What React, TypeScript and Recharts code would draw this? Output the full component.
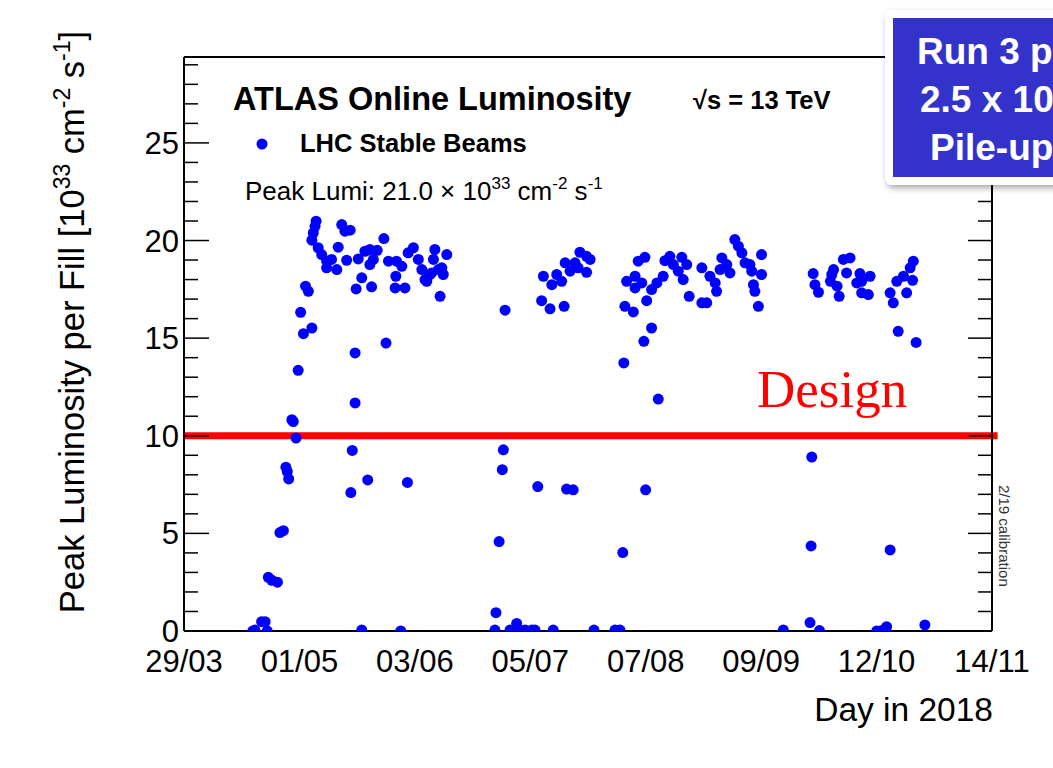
import React from 'react';
import { ScatterChart, Scatter, XAxis, YAxis, ReferenceLine } from 'recharts';

// Day of year 2018 (29/03 = day 88) for each fill
const fillDay: number[] = [
  107.6, 108.2, 110.1, 111.1, 111.7, 112.0, 113.0, 114.6, 115.3, 116.3, 117.0, 117.4, 117.8, 118.7, 119.1, 119.9,
  120.5, 121.2, 122.0, 122.6, 123.4, 124.4, 124.4, 124.8, 125.3, 125.6, 126.2, 127.2, 128.6, 128.6, 130.0, 131.5,
  131.9, 132.9, 133.8, 135.3, 134.3, 135.5, 135.9, 136.7, 136.7, 137.0, 137.6, 138.6, 138.6, 139.5, 140.3, 140.9,
  140.9, 141.9, 141.4, 143.0, 144.9, 145.5, 146.2, 148.5, 148.1, 148.3, 149.7, 150.0, 150.9, 151.6, 151.8, 153.3,
  154.7, 155.7, 156.6, 157.1, 158.0, 159.4, 159.0, 158.5, 160.4, 161.8, 161.4, 162.8, 160.9,
  176.5, 176.8, 177.7, 178.6, 178.9, 179.4, 180.8, 182.7, 182.7, 183.6, 185.1, 187.0, 187.9, 188.7, 189.8, 190.3,
  192.2, 192.7, 193.1, 194.1, 195.5, 196.2, 196.5, 196.9, 197.9, 198.8, 199.3, 200.2, 200.7, 202.6, 202.6, 203.6,
  204.7,
  210.7, 212.1, 212.9, 213.2, 213.5, 214.0, 215.9, 216.4, 216.4, 217.3, 218.3, 219.2, 219.4, 218.9, 219.7, 221.1,
  221.1, 222.6, 223.0, 224.4, 224.9, 226.3, 227.3, 228.7, 229.7, 231.1, 230.1, 231.8, 235.4, 235.4, 236.8, 237.7,
  239.2, 239.6, 241.1, 240.6, 242.5, 243.4, 244.8, 245.8, 246.8, 247.7, 249.1, 249.6, 250.1, 250.5, 251.5, 252.4,
  252.4, 258.6,
  266.2, 266.5, 266.7, 267.1, 267.6, 268.6, 268.9, 272.0, 272.4, 272.9, 273.9, 274.5, 275.7, 276.6, 277.6, 279.5,
  280.4, 280.9, 280.9, 282.8, 283.3, 285.2, 286.6, 288.0, 289.0, 289.0, 289.9, 290.9, 291.3, 292.8, 293.7, 294.7,
  295.4, 295.6, 296.4, 298.9,
];

// Peak luminosity per fill [10^33 cm^-2 s^-1]
const peakLumi: number[] = [
  0.0, 0.05, 0.48, 0.48, 0.0, 2.75, 2.6, 2.5, 5.04, 5.14, 8.39, 8.17, 7.79, 10.82, 10.73, 9.88,
  13.35, 16.32, 15.23, 17.66, 17.4, 15.52, 20.02, 20.39, 20.73, 20.99, 19.63, 19.28, 18.94, 18.6, 19.03, 18.51,
  19.66, 20.82, 20.48, 20.53, 18.99, 7.09, 9.25, 14.24, 11.68, 17.52, 19.06, 18.09, 0.05, 19.45, 7.74, 19.54,
  18.77, 19.03, 17.63, 19.5, 20.1, 14.75, 18.94, 18.94, 17.57, 18.17, 0.0, 18.68, 17.57, 7.61, 19.37, 19.63,
  19.03, 18.51, 18.0, 17.91, 18.26, 19.54, 19.03, 18.34, 18.51, 18.26, 18.6, 19.28, 17.14,
  0.05, 0.94, 4.58, 8.26, 9.28, 16.43, 0.05, 0.39, 0.05, 0.05, 0.05, 0.05, 0.05, 7.4, 16.92, 18.17,
  16.5, 17.74, 0.05, 18.26, 17.91, 16.63, 18.86, 7.27, 18.43, 7.23, 18.86, 18.6, 19.4, 19.19, 18.37, 19.03,
  0.05,
  0.05, 0.05, 4.02, 13.73, 16.63, 17.91, 16.34, 18.17, 17.57, 18.94, 17.83, 19.14, 7.23, 14.84, 16.92, 17.49,
  15.52, 17.83, 11.88, 18.17, 18.97, 19.19, 18.77, 18.43, 19.14, 18.77, 18.0, 17.14, 18.6, 16.81, 16.81, 18.17,
  17.83, 17.4, 19.11, 18.51, 18.77, 18.34, 20.05, 19.71, 19.37, 18.86, 18.77, 18.43, 17.74, 17.4, 16.63, 19.28,
  18.26, 0.05,
  0.43, 4.36, 8.91, 18.31, 17.74, 17.35, 0.02, 17.91, 18.26, 18.51, 17.66, 17.14, 19.03, 18.34, 19.11, 17.83,
  18.31, 17.91, 17.32, 17.23, 18.17, 0.0, 0.02, 0.22, 4.15, 17.32, 16.81, 17.91, 15.35, 18.17, 17.32, 18.6,
  17.96, 18.94, 14.78, 0.31,
];

const xTickLabels: string[] = ['29/03', '01/05', '03/06', '05/07', '07/08', '09/09', '12/10', '14/11'];
const xStart = 88;
const xEnd = 318;
const yTicks: number[] = [0, 5, 10, 15, 20, 25];
const yMax = 29.4;
const designLumi = 10;

const data = fillDay.map((d, i) => ({ day: d, lumi: peakLumi[i] }));
const xMajor = xTickLabels.map((_, k) => xStart + (k * (xEnd - xStart)) / 7);
const xMinor = Array.from({ length: 29 }, (_, k) => xStart + (k * (xEnd - xStart)) / 28).filter((_, k) => k % 4 !== 0);
const yMinor = Array.from({ length: 30 }, (_, k) => k).filter((v) => v % 5 !== 0);

const FONT = '"Liberation Sans", Arial, Helvetica, sans-serif';
const tickLineStyle = { stroke: '#000', strokeWidth: 1.5 };
const axisLineStyle = { stroke: '#000', strokeWidth: 2 };

const Dot = (p: any) => <circle cx={p.cx} cy={p.cy} r={5.5} fill="#0000ff" />;
const NoLabel = () => <g />;

export default function App() {
  const xCommon = { type: 'number' as const, domain: [xStart, xEnd], allowDataOverflow: true, interval: 0 as const, height: 1 };
  const yCommon = { type: 'number' as const, domain: [0, yMax], allowDataOverflow: true, interval: 0 as const, width: 1 };
  return (
    <div style={{ position: 'absolute', left: 0, top: 0, width: 1053, height: 768, background: '#fff', overflow: 'hidden' }}>
      <ScatterChart width={1053} height={768} margin={{ top: 57, right: 61, bottom: 136, left: 183 }}>
        {/* bottom: labels + frame line */}
        <XAxis
          xAxisId="x"
          dataKey="day"
          {...xCommon}
          ticks={xMajor}
          tickSize={0}
          tickMargin={19}
          tickLine={false}
          axisLine={axisLineStyle}
          tickFormatter={(_v: number, i: number) => xTickLabels[i]}
          tick={{ fill: '#000', fontSize: 31, fontFamily: FONT }}
        />
        <XAxis xAxisId="xmajor" {...xCommon} mirror ticks={xMajor} tickSize={17} tick={NoLabel} tickLine={tickLineStyle} axisLine={false} />
        <XAxis xAxisId="xminor" {...xCommon} mirror ticks={xMinor} tickSize={9} tick={NoLabel} tickLine={tickLineStyle} axisLine={false} />
        <XAxis xAxisId="top" orientation="top" {...xCommon} mirror ticks={xMajor} tickSize={16} tick={NoLabel} tickLine={tickLineStyle} axisLine={axisLineStyle} />
        <XAxis xAxisId="topminor" orientation="top" {...xCommon} mirror ticks={xMinor} tickSize={9} tick={NoLabel} tickLine={tickLineStyle} axisLine={false} />
        <YAxis
          yAxisId="y"
          dataKey="lumi"
          {...yCommon}
          ticks={yTicks}
          tickSize={0}
          tickMargin={5}
          tickLine={false}
          axisLine={axisLineStyle}
          tick={{ fill: '#000', fontSize: 31, fontFamily: FONT }}
        />
        <YAxis yAxisId="ymajor" {...yCommon} mirror ticks={yTicks} tickSize={25} tick={NoLabel} tickLine={tickLineStyle} axisLine={false} />
        <YAxis yAxisId="yminor" {...yCommon} mirror ticks={yMinor} tickSize={13} tick={NoLabel} tickLine={tickLineStyle} axisLine={false} />
        <YAxis yAxisId="right" orientation="right" {...yCommon} mirror ticks={yTicks} tickSize={24} tick={NoLabel} tickLine={tickLineStyle} axisLine={axisLineStyle} />
        <YAxis yAxisId="rightminor" orientation="right" {...yCommon} mirror ticks={yMinor} tickSize={13} tick={NoLabel} tickLine={tickLineStyle} axisLine={false} />
        <Scatter xAxisId="x" yAxisId="y" data={data} shape={Dot} isAnimationActive={false} />
        <ReferenceLine
          xAxisId="x"
          yAxisId="y"
          segment={[{ x: xStart, y: designLumi }, { x: xEnd + 1.6, y: designLumi }]}
          ifOverflow="visible"
          stroke="#ff0000"
          strokeWidth={7}
        />
      </ScatterChart>
      <svg width={1053} height={768} style={{ position: 'absolute', left: 0, top: 0, pointerEvents: 'none' }}>
        <defs>
          <filter id="sh" x="-20%" y="-20%" width="140%" height="140%">
            <feDropShadow dx="2" dy="3" stdDeviation="3" floodColor="#000" floodOpacity="0.35" />
          </filter>
        </defs>
        <text x={233} y={110} fontFamily={FONT} fontWeight="bold" fontSize={32.5} fill="#000">ATLAS Online Luminosity</text>
        <text x={693} y={109} fontFamily={FONT} fontWeight="bold" fontSize={25.5} fill="#000">√s = 13 TeV</text>
        <circle cx={262} cy={144} r={5.5} fill="#0000ff" />
        <text x={300} y={152} fontFamily={FONT} fontWeight="bold" fontSize={25.5} fill="#000">LHC Stable Beams</text>
        <text x={245} y={200} fontFamily={FONT} fontSize={26} fill="#000">
          Peak Lumi: 21.0 × 10<tspan dy={-11} fontSize={17}>33</tspan>
          <tspan dy={11}> cm</tspan><tspan dy={-11} fontSize={17}>-2</tspan>
          <tspan dy={11}> s</tspan><tspan dy={-11} fontSize={17}>-1</tspan>
        </text>
        <text x={757} y={407} fontFamily='"Liberation Serif", "Times New Roman", serif' fontSize={53} fill="#ff0000">Design</text>
        <text x={993} y={721} textAnchor="end" fontFamily={FONT} fontSize={33.5} fill="#000">Day in 2018</text>
        <text transform="rotate(-90)" x={-322} y={84} textAnchor="middle" fontFamily={FONT} fontSize={34.5} fill="#000">
          Peak Luminosity per Fill [10<tspan dy={-14} fontSize={23}>33</tspan>
          <tspan dy={14}> cm</tspan><tspan dy={-14} fontSize={23}>-2</tspan>
          <tspan dy={14}> s</tspan><tspan dy={-14} fontSize={23}>-1</tspan><tspan dy={14}>]</tspan>
        </text>
        <text transform="rotate(90, 999, 485)" x={999} y={485} fontFamily={FONT} fontSize={15} fill="#333">2/19 calibration</text>
        <rect x={885} y={10} width={220} height={175} rx={7} fill="#fff" filter="url(#sh)" />
        <rect x={893} y={18} width={220} height={159} fill="#3333cc" />
        <text x={917} y={64} fontFamily={FONT} fontWeight="bold" fontSize={37} fill="#fff">Run 3 peak</text>
        <text x={920} y={112} fontFamily={FONT} fontWeight="bold" fontSize={37} fill="#fff">2.5 x 10<tspan dy={-14} fontSize={24}>34</tspan></text>
        <text x={930} y={160} fontFamily={FONT} fontWeight="bold" fontSize={37} fill="#fff">Pile-up ~60</text>
      </svg>
    </div>
  );
}
